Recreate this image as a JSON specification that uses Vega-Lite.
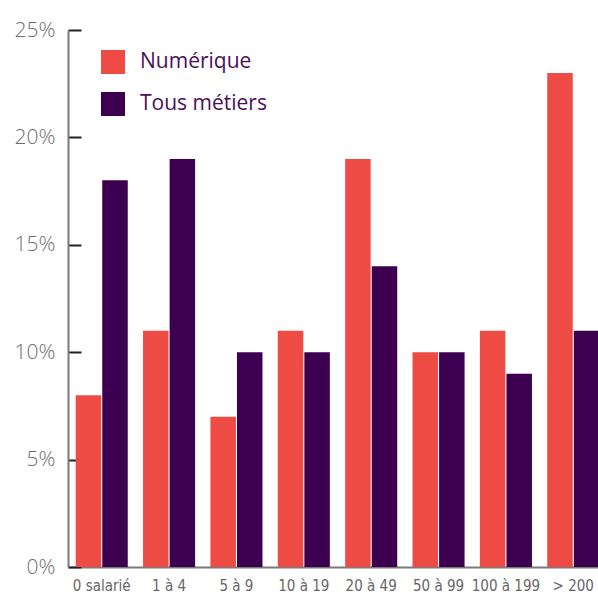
{
  "$schema": "https://vega.github.io/schema/vega-lite/v6.json",
  "autosize": {"type": "none"},
  "padding": {"left": 68, "top": 30, "right": 0, "bottom": 27},
  "width": 539,
  "height": 537,
  "data": {"values": [
    {"cat": "0 salarié", "serie": "Numérique", "v": 8},
    {"cat": "0 salarié", "serie": "Tous métiers", "v": 18},
    {"cat": "1 à 4", "serie": "Numérique", "v": 11},
    {"cat": "1 à 4", "serie": "Tous métiers", "v": 19},
    {"cat": "5 à 9", "serie": "Numérique", "v": 7},
    {"cat": "5 à 9", "serie": "Tous métiers", "v": 10},
    {"cat": "10 à 19", "serie": "Numérique", "v": 11},
    {"cat": "10 à 19", "serie": "Tous métiers", "v": 10},
    {"cat": "20 à 49", "serie": "Numérique", "v": 19},
    {"cat": "20 à 49", "serie": "Tous métiers", "v": 14},
    {"cat": "50 à 99", "serie": "Numérique", "v": 10},
    {"cat": "50 à 99", "serie": "Tous métiers", "v": 10},
    {"cat": "100 à 199", "serie": "Numérique", "v": 11},
    {"cat": "100 à 199", "serie": "Tous métiers", "v": 9},
    {"cat": "> 200", "serie": "Numérique", "v": 23},
    {"cat": "> 200", "serie": "Tous métiers", "v": 11}
  ]},
  "mark": {"type": "bar"},
  "encoding": {
    "x": {
      "field": "cat", "type": "nominal", "sort": null,
      "scale": {"paddingInner": 0.227, "paddingOuter": 0.114},
      "axis": {
        "title": null, "labelAngle": 0, "ticks": false,
        "domainColor": "#7a7a7a", "domainWidth": 2,
        "labelColor": "#666666", "labelFontSize": 15,
        "labelFont": "Liberation Sans Narrow, DejaVu Sans Condensed, sans-serif",
        "labelPadding": 11
      }
    },
    "xOffset": {"field": "serie", "type": "nominal", "scale": {"paddingInner": 0.04}},
    "y": {
      "field": "v", "type": "quantitative",
      "scale": {"domain": [0, 25], "nice": false},
      "axis": {
        "title": null, "grid": false, "values": [0, 5, 10, 15, 20, 25],
        "labelExpr": "datum.value + '%'",
        "domainColor": "#7a7a7a", "domainWidth": 2,
        "tickColor": "#222222", "tickWidth": 2, "tickSize": -13,
        "labelColor": "#6e6e6e", "labelFontSize": 21,
        "labelFont": "Open Sans, sans-serif", "labelFontWeight": 300,
        "labelPadding": 26
      }
    },
    "color": {
      "field": "serie", "type": "nominal",
      "scale": {"domain": ["Numérique", "Tous métiers"], "range": ["#ef4b45", "#3d0050"]},
      "legend": {
        "title": null, "orient": "none", "legendX": 33, "legendY": 20,
        "symbolType": "square", "symbolSize": 576, "symbolStrokeWidth": 0,
        "labelFontSize": 21, "labelFont": "Open Sans, sans-serif",
        "labelColor": "#4b0f5a", "labelOffset": 15, "rowPadding": 18
      }
    }
  },
  "config": {"view": {"stroke": null}}
}
